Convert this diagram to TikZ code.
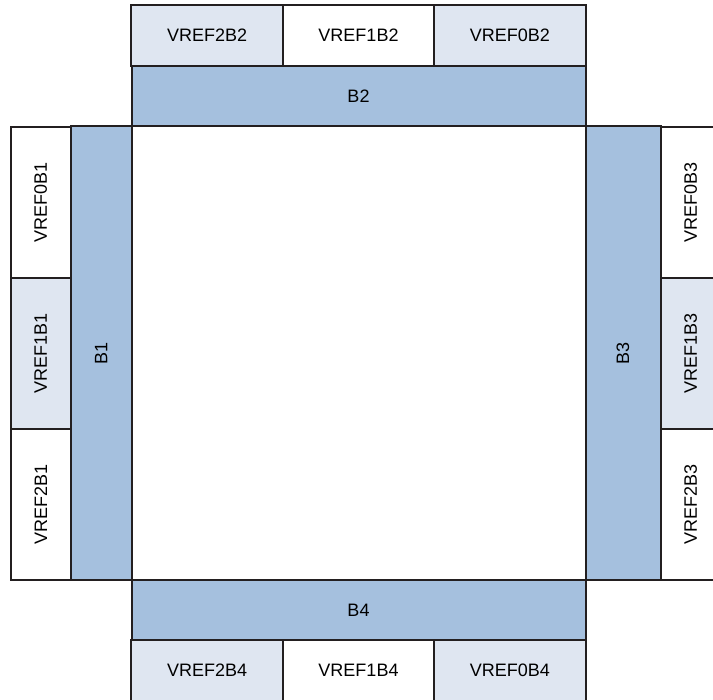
\documentclass[tikz,border=0pt]{standalone}
\usepackage{fontspec}
\setmainfont{Liberation Sans}
\usepackage{graphicx}
\usetikzlibrary{positioning}
\definecolor{edgecol}{HTML}{231F20}
\definecolor{busblue}{HTML}{A5C0DE}
\definecolor{reflight}{HTML}{DFE6F1}
\tikzset{
  cell/.style   = {draw=edgecol, line width=1pt, outer sep=0pt, inner sep=0pt,
                   align=center, font=\fontsize{9}{11}\selectfont},
  hbox/.style   = {cell, minimum width=75.67pt, minimum height=30.5pt},
  vbox/.style   = {cell, minimum width=30.25pt, minimum height=75.58pt},
  rwhite/.style = {fill=white},
  rlight/.style = {fill=reflight},
  bus/.style    = {cell, fill=busblue}
}
\newcommand{\vtext}[1]{\rotatebox{90}{#1}}

\begin{document}
\begin{tikzpicture}[node distance=0pt]
  \clip (0,0) rectangle (356.5pt,-350pt);
  \fill[white] (0,0) rectangle (356.5pt,-350pt);
  % core region
  \node[cell, fill=white, minimum width=227pt, minimum height=226.75pt]
    (core) at (179.25pt,-176.625pt) {};
  % buses
  \node[bus, above=of core, minimum width=227pt, minimum height=30.25pt] (b2) {B2};
  \node[bus, below=of core, minimum width=227pt, minimum height=30pt]    (b4) {B4};
  \node[bus, left=of core,  minimum width=30.25pt, minimum height=226.75pt] (b1) {\vtext{B1}};
  \node[bus, right=of core, minimum width=37.5pt,  minimum height=226.75pt] (b3) {\vtext{B3}};
  % top row
  \node[hbox, rwhite, above=of b2]       (vref1b2) {VREF1B2};
  \node[hbox, rlight, left=of vref1b2]   (vref2b2) {VREF2B2};
  \node[hbox, rlight, right=of vref1b2]  (vref0b2) {VREF0B2};
  % bottom row
  \node[hbox, rwhite, below=of b4]       (vref1b4) {VREF1B4};
  \node[hbox, rlight, left=of vref1b4]   (vref2b4) {VREF2B4};
  \node[hbox, rlight, right=of vref1b4]  (vref0b4) {VREF0B4};
  % left column
  \node[vbox, rlight, left=of b1]        (vref1b1) {\vtext{VREF1B1}};
  \node[vbox, rwhite, above=of vref1b1]  (vref0b1) {\vtext{VREF0B1}};
  \node[vbox, rwhite, below=of vref1b1]  (vref2b1) {\vtext{VREF2B1}};
  % right column
  \node[vbox, rlight, right=of b3]       (vref1b3) {\vtext{VREF1B3}};
  \node[vbox, rwhite, above=of vref1b3]  (vref0b3) {\vtext{VREF0B3}};
  \node[vbox, rwhite, below=of vref1b3]  (vref2b3) {\vtext{VREF2B3}};
\end{tikzpicture}
\end{document}
